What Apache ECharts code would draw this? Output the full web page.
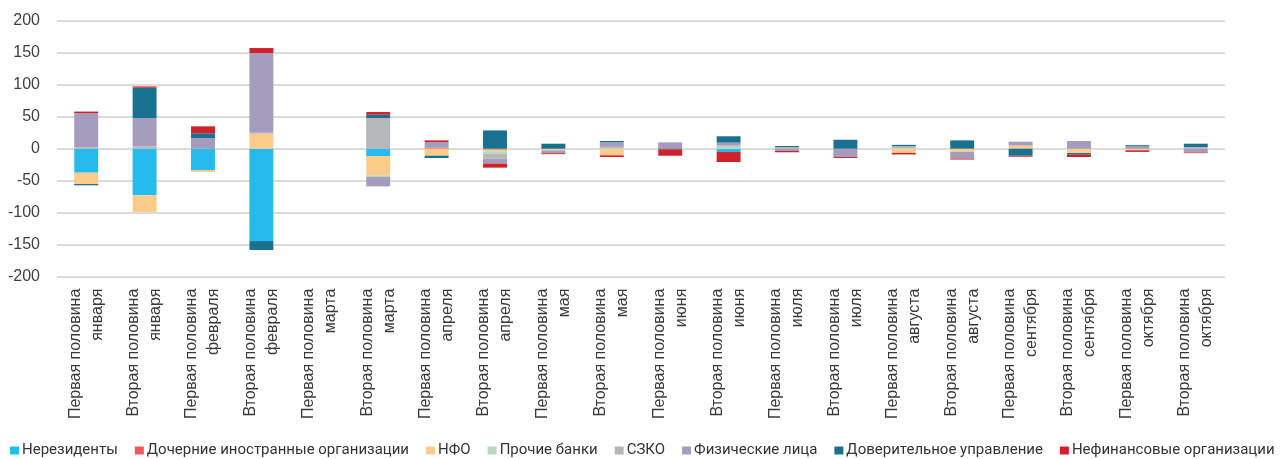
<!DOCTYPE html>
<html><head><meta charset="utf-8">
<script src="https://cdn.jsdelivr.net/npm/echarts@6/dist/echarts.min.js"></script>
<style>html,body{margin:0;padding:0;background:#fff}#c{width:1282px;height:459px}</style>
</head><body><div id="c"></div>
<script>
const categories = [
  "Первая половина\nянваря","Вторая половина\nянваря","Первая половина\nфевраля","Вторая половина\nфевраля",
  "Первая половина\nмарта","Вторая половина\nмарта","Первая половина\nапреля","Вторая половина\nапреля",
  "Первая половина\nмая","Вторая половина\nмая","Первая половина\nиюня","Вторая половина\nиюня",
  "Первая половина\nиюля","Вторая половина\nиюля","Первая половина\nавгуста","Вторая половина\nавгуста",
  "Первая половина\nсентября","Вторая половина\nсентября","Первая половина\nоктября","Вторая половина\nоктября"
];
const seriesNames = ["Нерезиденты","Дочерние иностранные организации","НФО","Прочие банки","СЗКО","Физические лица","Доверительное управление","Нефинансовые организации"];
const seriesColors = ["#25BCED","#EF5B5B","#FDCB8A","#B7D9B9","#B6B7B9","#A59BBD","#17718F","#D2202A"];
const nerezidenty   = [-37.5,-72.9,-33.3,-144.3,0,-11.5,0,0,0,0,0,-5.2,0,0,0,0,0,0,0,0];
const dochernie     = [0,0,0,0,0,0,1.5,-1.5,0,0,0,0,0,0,0,0,0,0,0,0];
const nfo           = [-17.7,-26,-3,23.4,0,-30.2,-10.9,-2.6,-2,-10.4,0,1,0,0,-6.5,-5,5,-6.8,-2.5,0];
const prochieBanki  = [0,0,0,0,0,-2.6,0,-3.6,0,1,0,2,0,0,1,0,0,0,0,0];
const szko          = [2.5,3.6,0,1.6,0,47.9,0,-7.8,-1,2,0,2.5,2.6,0,3,0,0,0,0,2.6];
const fizLica       = [53,44.3,16.7,124.5,0,-14.6,8.9,-7.8,-4,7,9.9,4,-3.6,-13,0,-10.4,6,12,4,-6];
const doveritelnoe  = [-2,47.4,7.3,-14,0,5.2,-3.6,28.6,7.8,2,-1,9.9,1.6,14,2,13,-11,-2.6,1.5,5.2];
const nefinansovye  = [2.5,2,10.9,7.8,0,4.2,2.6,-6.3,-1.5,-2.6,-10,-15.6,-2,-1.5,-2.5,-1.5,-1.5,-3.6,-2.5,-1];
const yTicks = {min:-200, max:200, interval:50};

const dataSets = [nerezidenty,dochernie,nfo,prochieBanki,szko,fizLica,doveritelnoe,nefinansovye];
const chart = echarts.init(document.getElementById('c'), null, {renderer:'canvas'});
chart.setOption({
  animation:false,
  color: seriesColors,
  grid:{left:57, right:57, top:20.7, bottom:182.3, containLabel:false},
  legend:{
    top:438, left:5, icon:'rect', itemWidth:9, itemHeight:8, itemGap:17,
    textStyle:{fontSize:15, color:'#333', fontFamily:'Roboto', padding:[0,0,0,-2]},
    data: seriesNames
  },
  xAxis:{
    type:'category', data:categories,
    axisLine:{show:false}, axisTick:{show:false},
    axisLabel:{rotate:90, interval:0, fontSize:16, lineHeight:22, color:'#3a3a3a', fontFamily:'Liberation Sans', margin:12}
  },
  yAxis:{
    type:'value', min:yTicks.min, max:yTicks.max, interval:yTicks.interval,
    axisLine:{show:false}, axisTick:{show:false},
    axisLabel:{fontSize:16, color:'#404040', fontFamily:'Liberation Sans', margin:17},
    splitLine:{lineStyle:{color:'#cfcfcf', width:1.5}}
  },
  series: seriesNames.map((n,i)=>({
    name:n, type:'bar', stack:'total', barWidth:'41%', data:dataSets[i]
  }))
});
</script></body></html>
